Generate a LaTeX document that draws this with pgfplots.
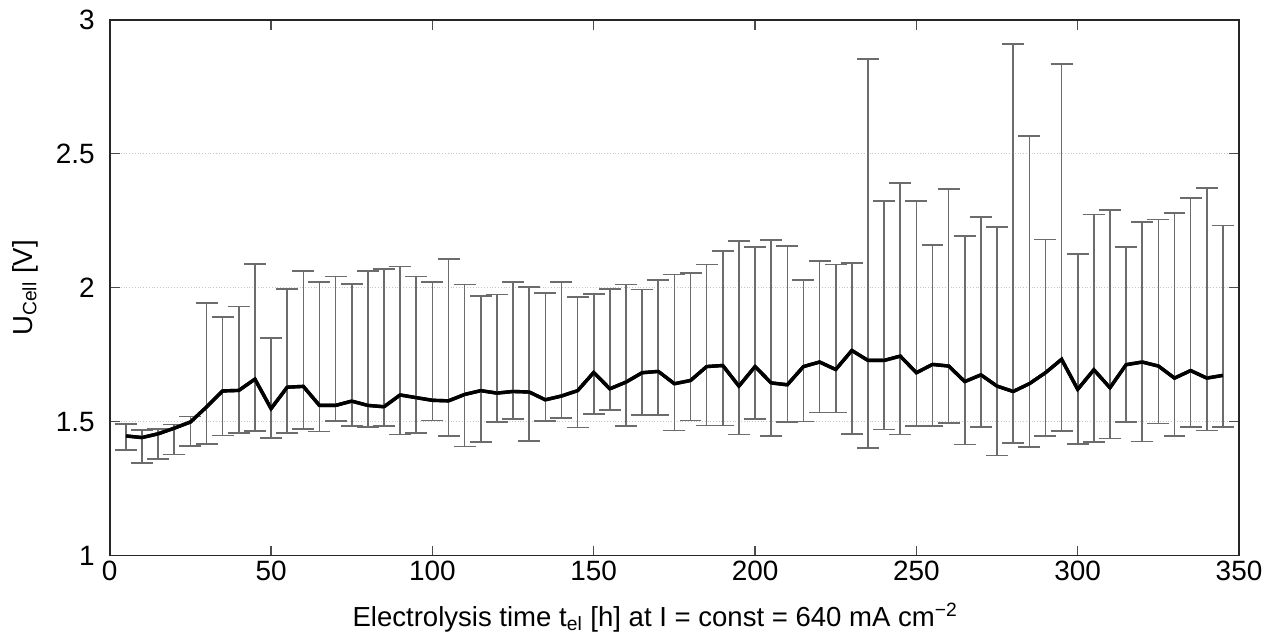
\documentclass[border=0pt]{standalone}
\usepackage{fontspec}
\setmainfont{Liberation Sans}
\usepackage{pgfplots}
\usepackage{pgfplotstable}
\pgfplotsset{compat=1.18}
\pgfplotstableread{
x y top bot
5 1.447 1.492 1.395
10 1.441 1.470 1.347
15 1.455 1.474 1.362
20 1.476 1.490 1.378
25 1.499 1.520 1.409
30 1.555 1.944 1.417
35 1.615 1.890 1.449
40 1.617 1.930 1.458
45 1.659 2.090 1.465
50 1.549 1.812 1.439
55 1.629 1.996 1.459
60 1.632 2.062 1.474
65 1.561 2.021 1.464
70 1.561 2.042 1.503
75 1.577 2.015 1.484
80 1.561 2.062 1.481
85 1.556 2.071 1.484
90 1.600 2.080 1.452
95 1.590 2.042 1.459
100 1.580 2.021 1.505
105 1.578 2.107 1.447
110 1.602 2.012 1.408
115 1.616 1.969 1.424
120 1.607 1.975 1.500
125 1.613 2.021 1.511
130 1.611 2.002 1.428
135 1.582 1.980 1.503
140 1.596 2.022 1.515
145 1.616 1.965 1.479
150 1.684 1.976 1.530
155 1.623 1.995 1.544
160 1.648 2.012 1.485
165 1.683 1.993 1.526
170 1.688 2.029 1.526
175 1.642 2.049 1.468
180 1.654 2.056 1.505
185 1.706 2.087 1.486
190 1.710 2.137 1.486
195 1.633 2.174 1.453
200 1.706 2.153 1.511
205 1.645 2.179 1.447
210 1.638 2.156 1.499
215 1.706 2.029 1.501
220 1.723 2.100 1.535
225 1.695 2.087 1.534
230 1.766 2.093 1.455
235 1.729 2.854 1.403
240 1.729 2.323 1.471
245 1.745 2.392 1.453
250 1.683 2.323 1.484
255 1.714 2.160 1.484
260 1.708 2.369 1.495
265 1.650 2.193 1.415
270 1.675 2.264 1.480
275 1.633 2.226 1.374
280 1.613 2.910 1.420
285 1.642 2.566 1.406
290 1.683 2.180 1.447
295 1.733 2.836 1.465
300 1.621 2.127 1.418
305 1.694 2.274 1.424
310 1.627 2.290 1.437
315 1.713 2.152 1.499
320 1.723 2.245 1.427
325 1.708 2.255 1.493
330 1.663 2.280 1.447
335 1.691 2.335 1.480
340 1.663 2.373 1.468
345 1.673 2.232 1.480
}\data
\begin{document}
\begin{tikzpicture}
\begin{axis}[
  scale only axis,
  width=566pt, height=268.5pt,
  xmin=0, xmax=350, ymin=1, ymax=3,
  xtick={0,50,...,350},
  ytick={1,1.5,2,2.5,3},
  tick align=inside,
  major tick length=5pt,
  tick style={black!70, line width=0.6pt},
  axis line style={black!85, line width=0.8pt},
  ymajorgrids,
  grid style={densely dotted, gray!45, line width=0.6pt},
  /pgf/number format/assume math mode=true,
  tick label style={font=\fontsize{14}{16}\selectfont},
  label style={font=\fontsize{13.8}{16}\selectfont},
  xticklabel style={yshift=1pt},
  yticklabel style={xshift=-4pt},
  xlabel={Electrolysis time t\textsubscript{el} [h] at I = const = 640 mA cm\textsuperscript{−2}},
  ylabel={U\textsubscript{Cell} [V]},
  xlabel style={at={(axis description cs:0.483,-0.1322)}, anchor=base},
  ylabel style={at={(axis description cs:-0.0751,0.5)}, anchor=center},
]
\addplot[black, line width=1.7pt, mark=none,
  error bars/.cd, y dir=both, y explicit,
  error bar style={gray!85!black, line width=0.8pt},
  error mark options={rotate=90, gray!85!black, line width=0.8pt, mark size=5.5pt}]
  table[x=x, y=y, y error plus expr=\thisrow{top}-\thisrow{y}, y error minus expr=\thisrow{y}-\thisrow{bot}] {\data};
\addplot[black, line width=1.7pt, mark=none] table[x=x, y=y] {\data};
\end{axis}
\path ([xshift=-55pt]current axis.west) ([xshift=13.5pt]current axis.east)
      ([yshift=10pt]current axis.north) ([yshift=-41pt]current axis.south);
\end{tikzpicture}
\end{document}
